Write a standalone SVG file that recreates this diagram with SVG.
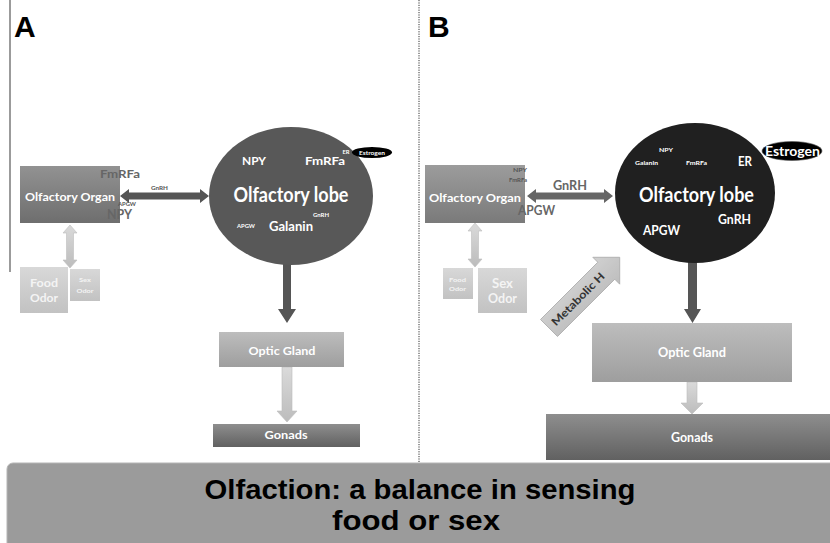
<svg xmlns="http://www.w3.org/2000/svg" width="830" height="543" viewBox="0 0 830 543">
<style>
.t{font-family:Lato,"Open Sans","Liberation Sans",sans-serif;font-weight:bold;text-anchor:middle;}
.w{fill:#ffffff;}
.g{fill:#666666;}
.lbl{font-family:"Liberation Sans",Arial,sans-serif;font-weight:bold;fill:#000;}
.dark{fill:#555555;}
.light{fill:url(#gLight);stroke:#bdbdbd;stroke-width:0.6;}
</style>
<defs>
<linearGradient id="gOrgL" x1="0" y1="0" x2="0" y2="1"><stop offset="0" stop-color="#929292"/><stop offset="1" stop-color="#6e6e6e"/></linearGradient>
<linearGradient id="gOrgR" x1="0" y1="0" x2="0" y2="1"><stop offset="0" stop-color="#9c9c9c"/><stop offset="1" stop-color="#7a7a7a"/></linearGradient>
<linearGradient id="gOdor" x1="0" y1="0" x2="0" y2="1"><stop offset="0" stop-color="#d8d8d8"/><stop offset="1" stop-color="#c2c2c2"/></linearGradient>
<linearGradient id="gOptic" x1="0" y1="0" x2="0" y2="1"><stop offset="0" stop-color="#bdbdbd"/><stop offset="1" stop-color="#9e9e9e"/></linearGradient>
<linearGradient id="gGon" x1="0" y1="0" x2="0" y2="1"><stop offset="0" stop-color="#8e8e8e"/><stop offset="1" stop-color="#616161"/></linearGradient>
<linearGradient id="gLight" x1="0" y1="0" x2="0" y2="1"><stop offset="0" stop-color="#dadada"/><stop offset="1" stop-color="#bcbcbc"/></linearGradient>
<linearGradient id="gMeta" x1="0" y1="-1" x2="0" y2="1" gradientUnits="objectBoundingBox"><stop offset="0" stop-color="#e6e6e6"/><stop offset="1" stop-color="#bdbdbd"/></linearGradient>
</defs>
<rect width="830" height="543" fill="#ffffff"/>

<!-- dividers -->
<line x1="10" y1="0" x2="10" y2="272" stroke="#7a7a7a" stroke-width="1.5"/>
<line x1="419" y1="0" x2="419" y2="462" stroke="#333" stroke-width="1" stroke-dasharray="1.2,1.2"/>

<text class="lbl" x="14" y="37" font-size="30">A</text>
<text class="lbl" x="428" y="37" font-size="30">B</text>

<!-- connectors -->
<g id="connectors">
<polygon class="dark" points="120,196 129,189 129,192.5 200,192.5 200,189 209,196 200,203 200,199.5 129,199.5 129,203"/>
<polygon class="light" points="70,225 77,233 73.5,233 73.5,260 77,260 70,268 63,260 66.5,260 66.5,233 63,233"/>
<polygon class="dark" points="283,264 291,264 291,309 296,309 287,323 278,309 283,309"/>
<polygon class="light" points="282,367 292,367 292,411 297,411 287,422 277,411 282,411"/>
<polygon fill="#666" points="527,196 536,189 536,192.5 604,192.5 604,189 613,196 604,203 604,199.5 536,199.5 536,203"/>
<polygon class="light" points="475,223 482,231 478.5,231 478.5,259 482,259 475,267 468,259 471.5,259 471.5,231 468,231"/>
<polygon class="dark" points="688,262 697,262 697,309 701,309 692.5,323 684,309 688,309"/>
<polygon class="light" points="687,382 697,382 697,403 703,403 692,414 681,403 687,403"/>
<g id="metabolic" transform="translate(549,328) rotate(-45)">
<polygon points="0,-12 81,-12 81,-19 100,0 81,19 81,12 0,12" fill="url(#gMeta)" stroke="#aaaaaa" stroke-width="0.8"/>
<text class="t" x="41" y="4" font-size="11" fill="#333" textLength="70" lengthAdjust="spacingAndGlyphs">Metabolic H</text>
</g>
</g>

<!-- Panel A -->
<g id="A-organ">
<rect x="20" y="166" width="100" height="57" fill="url(#gOrgL)"/>
<text class="t w" x="70" y="201" font-size="12" textLength="90" lengthAdjust="spacingAndGlyphs">Olfactory Organ</text>
<text class="t g" x="120" y="178" font-size="12" textLength="40" lengthAdjust="spacingAndGlyphs">FmRFa</text>
<text class="t" x="159.5" y="190" font-size="6" fill="#555" textLength="17" lengthAdjust="spacingAndGlyphs">GnRH</text>
<text class="t" x="127" y="206" font-size="5" fill="#555" textLength="18" lengthAdjust="spacingAndGlyphs">APGW</text>
<text class="t g" x="119.5" y="219" font-size="13" textLength="25" lengthAdjust="spacingAndGlyphs">NPY</text>
</g>
<g id="A-food">
<rect x="20" y="267" width="48" height="46" fill="url(#gOdor)"/>
<text class="t" x="44" y="287" font-size="12" fill="#f4f4f4" textLength="28" lengthAdjust="spacingAndGlyphs">Food</text>
<text class="t" x="44" y="302" font-size="12" fill="#f4f4f4" textLength="28" lengthAdjust="spacingAndGlyphs">Odor</text>
</g>
<g id="A-sex">
<rect x="70" y="269" width="30" height="32" fill="url(#gOdor)"/>
<text class="t" x="85" y="282" font-size="6" fill="#f4f4f4" textLength="12" lengthAdjust="spacingAndGlyphs">Sex</text>
<text class="t" x="85" y="293" font-size="6" fill="#f4f4f4" textLength="17" lengthAdjust="spacingAndGlyphs">Odor</text>
</g>
<g id="A-lobe">
<ellipse cx="291" cy="196" rx="82" ry="69" fill="#585858"/>
<text class="t w" x="254" y="165" font-size="12" textLength="24" lengthAdjust="spacingAndGlyphs">NPY</text>
<text class="t w" x="325" y="165" font-size="12" textLength="40" lengthAdjust="spacingAndGlyphs">FmRFa</text>
<text class="t w" x="346" y="154" font-size="5" textLength="7" lengthAdjust="spacingAndGlyphs">ER</text>
<text class="t w" x="291" y="202" font-size="20" textLength="115" lengthAdjust="spacingAndGlyphs">Olfactory lobe</text>
<text class="t w" x="321" y="217" font-size="5" textLength="16" lengthAdjust="spacingAndGlyphs">GnRH</text>
<text class="t w" x="246" y="228" font-size="5" textLength="18" lengthAdjust="spacingAndGlyphs">APGW</text>
<text class="t w" x="291" y="231" font-size="13" textLength="44" lengthAdjust="spacingAndGlyphs">Galanin</text>
</g>
<g id="A-estrogen">
<ellipse cx="372" cy="152.5" rx="20" ry="5.5" fill="#000"/>
<text class="t w" x="372" y="154.5" font-size="5" textLength="26" lengthAdjust="spacingAndGlyphs">Estrogen</text>
</g>
<g id="A-optic">
<rect x="219" y="332" width="125" height="35" fill="url(#gOptic)"/>
<text class="t w" x="282" y="355" font-size="12" textLength="67" lengthAdjust="spacingAndGlyphs">Optic Gland</text>
</g>
<g id="A-gonads">
<rect x="213" y="424" width="147" height="23" fill="url(#gGon)"/>
<text class="t w" x="286" y="439" font-size="12" textLength="43" lengthAdjust="spacingAndGlyphs">Gonads</text>
</g>

<!-- Panel B -->
<g id="B-organ">
<rect x="425" y="165" width="100" height="58" fill="url(#gOrgR)"/>
<text class="t w" x="475" y="202" font-size="12" textLength="92" lengthAdjust="spacingAndGlyphs">Olfactory Organ</text>
<text class="t" x="520" y="172" font-size="5.5" fill="#555" textLength="14" lengthAdjust="spacingAndGlyphs">NPY</text>
<text class="t" x="518" y="182" font-size="5.5" fill="#555" textLength="18" lengthAdjust="spacingAndGlyphs">FmRFa</text>
<text class="t g" x="536.5" y="215" font-size="13" textLength="37" lengthAdjust="spacingAndGlyphs">APGW</text>
<text class="t g" x="570" y="190" font-size="13" textLength="34" lengthAdjust="spacingAndGlyphs">GnRH</text>
</g>
<g id="B-food">
<rect x="443" y="268" width="30" height="31" fill="url(#gOdor)"/>
<text class="t" x="457.5" y="282" font-size="6" fill="#f4f4f4" textLength="17" lengthAdjust="spacingAndGlyphs">Food</text>
<text class="t" x="457.5" y="291" font-size="6" fill="#f4f4f4" textLength="17" lengthAdjust="spacingAndGlyphs">Odor</text>
</g>
<g id="B-sex">
<rect x="478" y="268" width="49" height="45" fill="url(#gOdor)"/>
<text class="t" x="502.5" y="288" font-size="13" fill="#f4f4f4" textLength="21" lengthAdjust="spacingAndGlyphs">Sex</text>
<text class="t" x="502.5" y="303" font-size="13" fill="#f4f4f4" textLength="29" lengthAdjust="spacingAndGlyphs">Odor</text>
</g>
<g id="B-lobe">
<ellipse cx="695" cy="193" rx="80" ry="70" fill="#202020"/>
<text class="t w" x="666" y="152" font-size="5.5" textLength="14" lengthAdjust="spacingAndGlyphs">NPY</text>
<text class="t w" x="646.5" y="165" font-size="5.5" textLength="23" lengthAdjust="spacingAndGlyphs">Galanin</text>
<text class="t w" x="696.5" y="165" font-size="5.5" textLength="21" lengthAdjust="spacingAndGlyphs">FmRFa</text>
<text class="t w" x="745" y="166" font-size="13" textLength="14" lengthAdjust="spacingAndGlyphs">ER</text>
<text class="t w" x="696.5" y="202" font-size="20" textLength="115" lengthAdjust="spacingAndGlyphs">Olfactory lobe</text>
<text class="t w" x="734.5" y="224" font-size="14" textLength="33" lengthAdjust="spacingAndGlyphs">GnRH</text>
<text class="t w" x="661.5" y="235" font-size="14" textLength="37" lengthAdjust="spacingAndGlyphs">APGW</text>
</g>
<g id="B-estrogen">
<ellipse cx="792" cy="151" rx="30" ry="9.5" fill="#000" stroke="#555" stroke-width="0.6"/>
<text class="t w" x="792.5" y="156" font-size="13" textLength="55" lengthAdjust="spacingAndGlyphs">Estrogen</text>
</g>
<g id="B-optic">
<rect x="592" y="323" width="200" height="59" fill="url(#gOptic)"/>
<text class="t w" x="692" y="357" font-size="13" textLength="68" lengthAdjust="spacingAndGlyphs">Optic Gland</text>
</g>
<g id="B-gonads">
<rect x="546" y="414" width="290" height="46" fill="url(#gGon)"/>
<text class="t w" x="692" y="442" font-size="13" textLength="42" lengthAdjust="spacingAndGlyphs">Gonads</text>
</g>

<!-- Banner -->
<g id="banner">
<rect x="7" y="463" width="840" height="90" rx="6" fill="#9b9b9b" stroke="#b5b5b5" stroke-width="1"/>
<text class="lbl" x="420" y="499" font-size="27" text-anchor="middle" fill="#111" textLength="431" lengthAdjust="spacingAndGlyphs">Olfaction: a balance in sensing</text>
<text class="lbl" x="416" y="530" font-size="27" text-anchor="middle" fill="#111" textLength="168" lengthAdjust="spacingAndGlyphs">food or sex</text>
</g>
</svg>
